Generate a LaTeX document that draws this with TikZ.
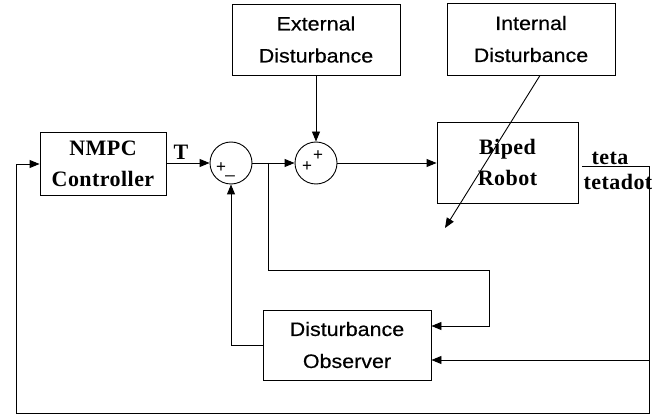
\documentclass[tikz,border=0pt]{standalone}
\usepackage{fontspec}
\setmainfont{Liberation Serif}[LetterSpace=2]
\newfontfamily\arialf{Liberation Sans}[FakeStretch=1.1,FakeBold=0.4]
\newfontfamily\signf{Liberation Sans}
\usetikzlibrary{arrows.meta,calc}
\begin{document}
\begin{tikzpicture}[x=1pt,y=-1pt,
  line width=0.9pt,
  arr/.style={-{Triangle[length=10pt,width=8pt]}},
  sbox/.style={draw, minimum width=168pt, minimum height=71pt, align=center, inner sep=0pt,
     font=\arialf\fontsize{19.5}{32}\selectfont},
  tbox/.style={draw, align=center, inner sep=0pt,
     font=\bfseries\fontsize{22}{31}\selectfont},
  sumc/.style={draw, circle, minimum size=42pt, inner sep=0pt},
  lab/.style={font=\bfseries\fontsize{22}{24}\selectfont, inner sep=0pt},
  sgn/.style={font=\signf\fontsize{17}{18}\selectfont, inner sep=0pt}
]
\useasboundingbox (0,0) rectangle (670,417);

\node[tbox, minimum width=126pt, minimum height=63pt] (nmpc) at (103,163.5) {NMPC\\Controller};
\node[sbox] (ext) at (316,39.5) {External\\Disturbance};
\node[sbox, minimum height=72pt] (int) at (531,39) {Internal\\Disturbance};
\node[tbox, minimum width=141pt, minimum height=81pt] (robot) at (507.5,162.5) {Biped\\Robot};
\node[sbox, minimum height=70pt] (dob) at (347,345) {Disturbance\\Observer};

\node[sumc] (s1) at (231,163) {};
\node[sumc] (s2) at (316,163) {};

\node[sgn] (p1) at (221,168) {+};
\node[sgn] (m1) at (230,175) {\_};
\node[sgn] (p2) at (307,167) {+};
\node[sgn] (p3) at (318,156) {+};

\node[lab] (tlab) at (181,152) {T};
\node[lab] (teta) at (610,158) {teta};
\node[lab] (tetadot) at (618,182) {tetadot};

\coordinate (b1) at (268,163);
\coordinate (out) at (582,166);
\coordinate (iend) at (445,228);

\draw[arr] (nmpc.east |- s1.west) -- (s1.west);
\draw[arr] (s1.east) -- (s2.west);
\draw[arr] (ext.south) -- (s2.north);
\draw[arr] (s2.east) -- (robot.west |- s2.east);
\draw[arr] ([xshift=9pt]int.south) -- (iend);
\draw[arr] (b1) -- (268,270) -- (489,270) |- ([yshift=19pt]dob.east);
\draw (out) -- (649,166) -- (649,413) -- (16,413) -- (16,164);
\draw[arr] (16,164) -- (nmpc.west |- 0,164);
\draw[arr] (649,360) -- ([yshift=-15pt]dob.east);
\draw[arr] (dob.west) -- (231,345) -- (s1.south);
\end{tikzpicture}
\end{document}
